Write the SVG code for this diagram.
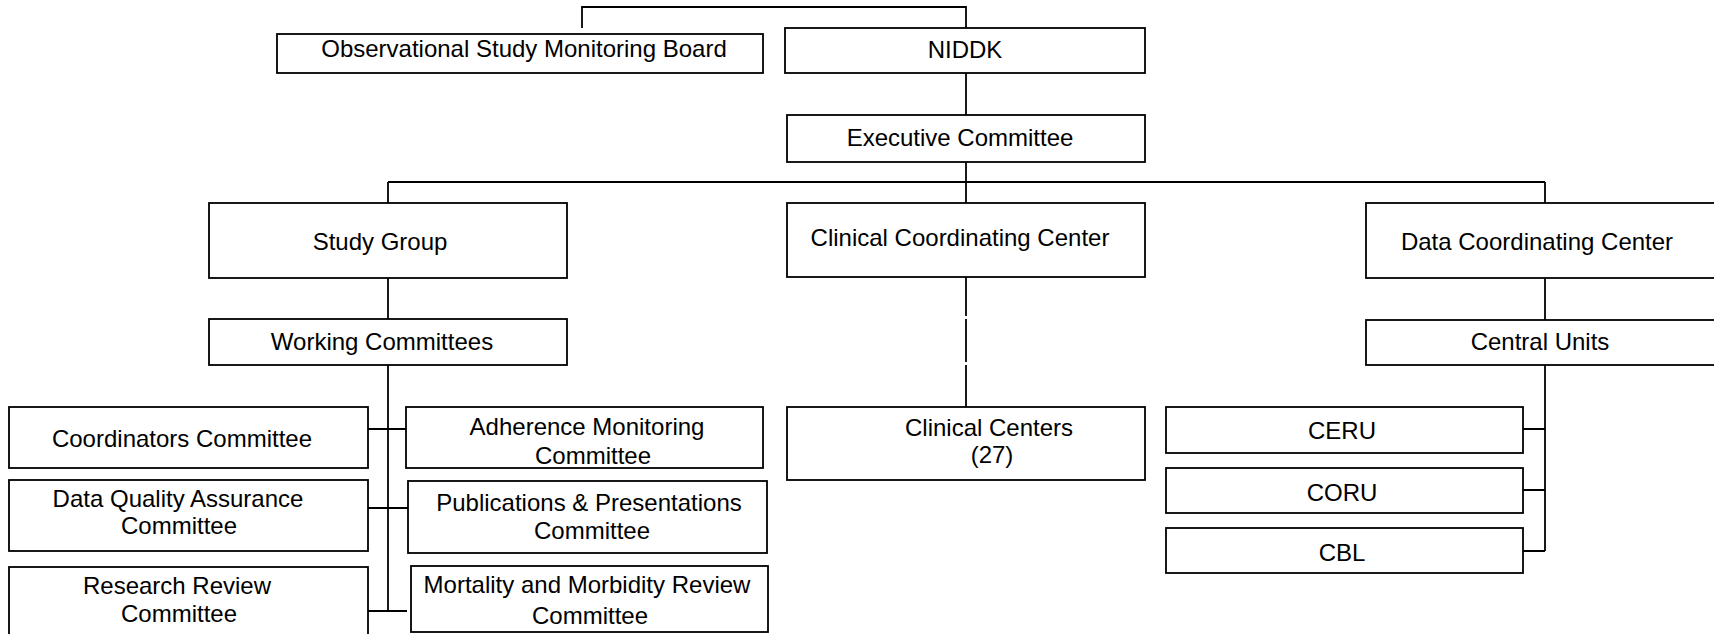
<svg xmlns="http://www.w3.org/2000/svg" width="1714" height="634" viewBox="0 0 1714 634">
<style>
.box{fill:#fff;stroke:#000;stroke-width:1.8}
.t{font-family:"Liberation Sans",Arial,sans-serif;font-size:24px;fill:#000;text-anchor:middle}
#connectors path{fill:none;stroke:#000;stroke-width:1.8}
</style>
<rect width="1714" height="634" fill="#fff"/>
<g id="connectors">
<path d="M582 28V7H966V28"/>
<path d="M966 73V115"/>
<path d="M966 162V182"/>
<path d="M388 182H1545"/>
<path d="M388 182V203M966 182V203M1545 182V203"/>
<path d="M388 278V319"/>
<path d="M388 365V611"/>
<path d="M368 429H409M368 508H408M368 611H407"/>
<path d="M966 277V316M966 319V362M966 365V407"/>
<path d="M1545 278V320"/>
<path d="M1545 365V551"/>
<path d="M1523 429H1545M1523 490H1545M1523 551H1545"/>
</g>
<g id="osmb"><rect class="box" x="277" y="34" width="486" height="39"/><text class="t" x="524" y="57">Observational Study Monitoring Board</text></g>
<g id="niddk"><rect class="box" x="785" y="28" width="360" height="45"/><text class="t" x="965" y="58">NIDDK</text></g>
<g id="exec"><rect class="box" x="787" y="115" width="358" height="47"/><text class="t" x="960" y="146">Executive Committee</text></g>
<g id="studygroup"><rect class="box" x="209" y="203" width="358" height="75"/><text class="t" x="380" y="250">Study Group</text></g>
<g id="ccc"><rect class="box" x="787" y="203" width="358" height="74"/><text class="t" x="960" y="246">Clinical Coordinating Center</text></g>
<g id="dcc"><rect class="box" x="1366" y="203" width="358" height="75"/><text class="t" x="1537" y="250">Data Coordinating Center</text></g>
<g id="working"><rect class="box" x="209" y="319" width="358" height="46"/><text class="t" x="382" y="350">Working Committees</text></g>
<g id="central"><rect class="box" x="1366" y="320" width="358" height="45"/><text class="t" x="1540" y="350">Central Units</text></g>
<g id="clinical"><rect class="box" x="787" y="407" width="358" height="73"/><text class="t" x="989" y="436">Clinical Centers</text><text class="t" x="992" y="463">(27)</text></g>
<g id="coordinators"><rect class="box" x="9" y="407" width="359" height="61"/><text class="t" x="182" y="447">Coordinators Committee</text></g>
<g id="dqa"><rect class="box" x="9" y="480" width="359" height="71"/><text class="t" x="178" y="507">Data Quality Assurance</text><text class="t" x="179" y="534">Committee</text></g>
<g id="research"><rect class="box" x="9" y="567" width="359" height="80"/><text class="t" x="177" y="594">Research Review</text><text class="t" x="179" y="622">Committee</text></g>
<g id="adherence"><rect class="box" x="406" y="407" width="357" height="61"/><text class="t" x="587" y="435">Adherence Monitoring</text><text class="t" x="593" y="464">Committee</text></g>
<g id="publications"><rect class="box" x="408" y="481" width="359" height="72"/><text class="t" x="589" y="511">Publications &amp; Presentations</text><text class="t" x="592" y="539">Committee</text></g>
<g id="mortality"><rect class="box" x="411" y="566" width="357" height="66"/><text class="t" x="587" y="593">Mortality and Morbidity Review</text><text class="t" x="590" y="624">Committee</text></g>
<g id="ceru"><rect class="box" x="1166" y="407" width="357" height="46"/><text class="t" x="1342" y="439">CERU</text></g>
<g id="coru"><rect class="box" x="1166" y="468" width="357" height="45"/><text class="t" x="1342" y="501">CORU</text></g>
<g id="cbl"><rect class="box" x="1166" y="528" width="357" height="45"/><text class="t" x="1342" y="561">CBL</text></g>
</svg>
